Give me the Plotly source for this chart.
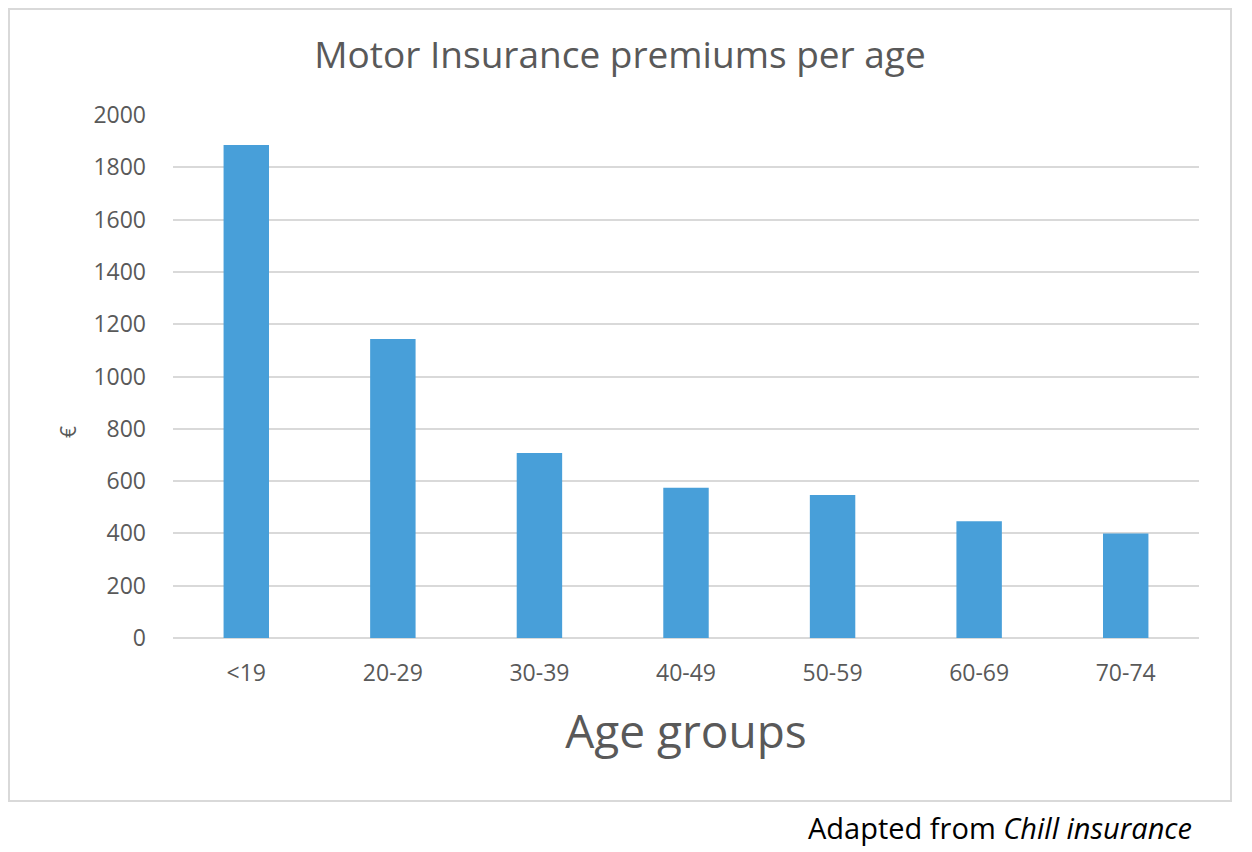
import plotly.graph_objects as go

age_groups = ['<19', '20-29', '30-39', '40-49', '50-59', '60-69', '70-74']
premiums = [1885, 1143, 707, 575, 547, 446, 400]
y_ticks = [0, 200, 400, 600, 800, 1000, 1200, 1400, 1600, 1800, 2000]

text_grey = '#595959'
grid_grey = '#d9d9d9'
bar_blue = '#489fd9'

# page body adds an 8px offset, so the figure is a bit smaller than the window
fig_w, fig_h = 1244, 844
plot_l, plot_r, plot_t, plot_b = 165, 1191, 107, 630
plot_w, plot_h = plot_r - plot_l, plot_b - plot_t

fig = go.Figure()
fig.add_trace(go.Bar(x=age_groups, y=premiums, marker=dict(color=bar_blue, line=dict(width=0)),
                     showlegend=False))

fig.update_layout(
    width=fig_w,
    height=fig_h,
    margin=dict(l=plot_l, r=fig_w - plot_r, t=plot_t, b=fig_h - plot_b),
    paper_bgcolor='white',
    plot_bgcolor='white',
    font=dict(family='Open Sans', color=text_grey),
    bargap=0.69,
    title=dict(text='Motor Insurance premiums per age', x=612 / fig_w, y=1 - 47 / fig_h,
               xanchor='center', yanchor='middle', xref='container', yref='container',
               font=dict(size=37, color=text_grey)),
    xaxis=dict(
        showgrid=False,
        showline=False,
        ticks='',
        tickfont=dict(size=23, color=text_grey),
        ticklabelstandoff=19,
        title=dict(text='Age groups', font=dict(size=46, color=text_grey), standoff=28),
    ),
    yaxis=dict(
        range=[0, 2000],
        tickvals=y_ticks,
        showgrid=True,
        gridcolor=grid_grey,
        gridwidth=2,
        zeroline=True,
        zerolinecolor=grid_grey,
        zerolinewidth=2,
        showline=False,
        ticks='',
        tickfont=dict(size=23, color=text_grey),
        ticklabelstandoff=26,
    ),
)

# the euro axis label sits lower than the middle of the axis in the original
fig.add_annotation(text='€', xref='paper', yref='paper',
                   x=(60 - plot_l) / plot_w, y=(plot_b - 424) / plot_h,
                   xanchor='center', yanchor='middle', textangle=-90,
                   showarrow=False, font=dict(size=21, color=text_grey))

# light outer frame around the chart area
fig.add_shape(type='rect', xref='paper', yref='paper',
              x0=(1 - plot_l) / plot_w, x1=(1223 - plot_l) / plot_w,
              y0=(plot_b - 793) / plot_h, y1=(plot_b - 1) / plot_h,
              line=dict(color=grid_grey, width=2), fillcolor='rgba(0,0,0,0)', layer='below')

fig.add_annotation(text='Adapted from <i>Chill insurance</i>', xref='paper', yref='paper',
                   x=(1186 - plot_l) / plot_w, y=(plot_b - 820) / plot_h,
                   xanchor='right', yanchor='middle',
                   showarrow=False, font=dict(size=29, color='black'))

fig.write_html('out.html')
